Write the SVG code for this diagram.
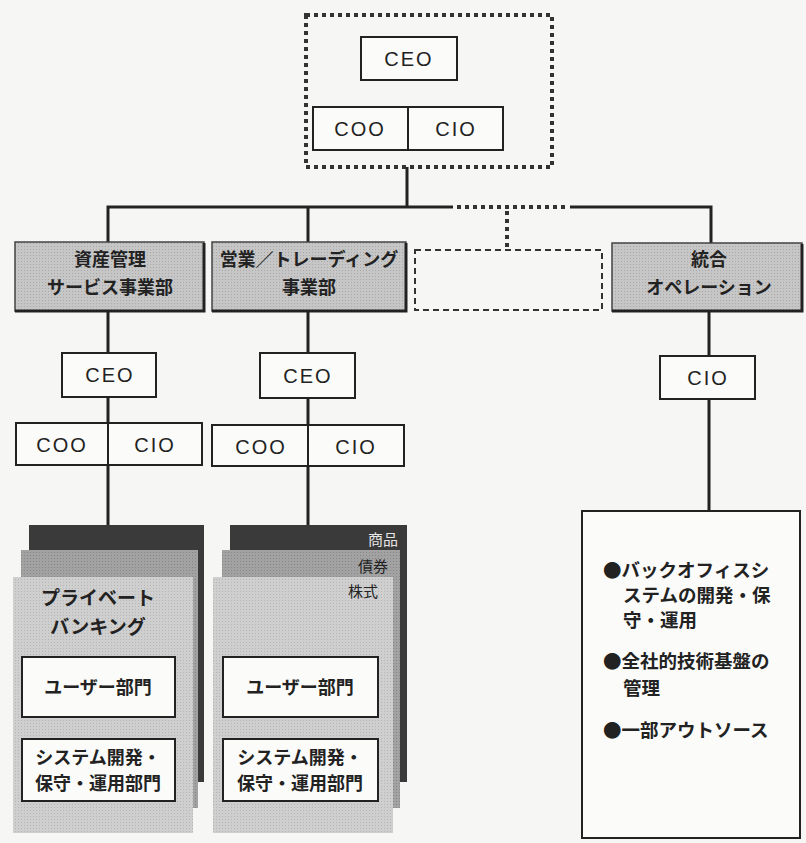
<svg xmlns="http://www.w3.org/2000/svg" width="806" height="843" viewBox="0 0 806 843">
<defs>
<pattern id="ht" width="3" height="3" patternUnits="userSpaceOnUse"><rect width="3" height="3" fill="#c6c6c6"/><rect width="1" height="1" fill="#a8a8a8"/></pattern>
<pattern id="htm" width="3" height="3" patternUnits="userSpaceOnUse"><rect width="3" height="3" fill="#a2a2a2"/><rect width="1" height="1" fill="#868686"/></pattern>
<pattern id="htl" width="3" height="3" patternUnits="userSpaceOnUse"><rect width="3" height="3" fill="#cfcfcf"/><rect width="1" height="1" fill="#b4b4b4"/></pattern>
</defs>
<style>
.bg{fill:#f6f6f4}
.box{fill:#fbfbf9;stroke:#222;stroke-width:2}
.hdr{fill:url(#ht);stroke:#444;stroke-width:1.5}
.hsh{fill:none;stroke:#222;stroke-width:3}
.ln{fill:none;stroke:#222;stroke-width:3}
.dot{fill:none;stroke:#333;stroke-width:4;stroke-dasharray:4 4}
.dash{fill:none;stroke:#333;stroke-width:2;stroke-dasharray:6 4}
.en{font-family:"Liberation Sans",Arial,sans-serif;font-size:20px;fill:#222;text-anchor:middle;letter-spacing:2px}
.jp{font-family:"Noto Sans CJK JP","Noto Sans CJK SC",sans-serif;font-size:18px;fill:#222;text-anchor:middle;font-weight:bold}
.jpl{font-family:"Noto Sans CJK JP","Noto Sans CJK SC",sans-serif;font-size:18.5px;fill:#222;font-weight:bold}
.dark{fill:#3a3a3a}
.mid{fill:url(#htm)}
.front{fill:url(#htl)}
</style>
<rect class="bg" width="806" height="843"/>

<g id="connectors">
<line class="ln" x1="407" y1="167" x2="407" y2="207"/>
<polyline class="ln" points="108,242 108,207 453,207"/>
<line class="dot" x1="457" y1="207" x2="568" y2="207"/>
<line class="dot" x1="507" y1="211" x2="507" y2="248"/>
<polyline class="ln" points="570,207 711,207 711,243"/>
<line class="ln" x1="308" y1="207" x2="308" y2="242"/>
<line class="ln" x1="108" y1="311" x2="108" y2="353"/>
<line class="ln" x1="108" y1="397" x2="108" y2="423"/>
<line class="ln" x1="108" y1="465" x2="108" y2="525"/>
<line class="ln" x1="308" y1="311" x2="308" y2="353"/>
<line class="ln" x1="308" y1="398" x2="308" y2="425"/>
<line class="ln" x1="308" y1="466" x2="308" y2="525"/>
<line class="ln" x1="709" y1="311" x2="709" y2="356"/>
<line class="ln" x1="709" y1="399" x2="709" y2="511"/>
</g>

<g id="top-management">
<rect class="dot" x="306" y="15" width="246" height="152"/>
<g id="top-ceo"><rect class="box" x="361" y="37" width="96" height="43"/><text class="en" x="409" y="66">CEO</text></g>
<g id="top-coo-cio"><rect class="box" x="313" y="107" width="190" height="43"/><line x1="408" y1="107" x2="408" y2="150" stroke="#222" stroke-width="2"/><text class="en" x="360" y="136">COO</text><text class="en" x="456" y="136">CIO</text></g>
</g>

<g id="asset-mgmt">
<rect class="hdr" x="15" y="242" width="189" height="69"/>
<polyline class="hsh" points="204,243 204,311 15,311"/>
<text class="jp" x="110" y="266">資産管理</text>
<text class="jp" x="110" y="294">サービス事業部</text>
</g>
<g id="sales-trading">
<rect class="hdr" x="212" y="242" width="194" height="69"/>
<polyline class="hsh" points="406,243 406,311 212,311"/>
<text class="jp" x="309" y="266">営業／トレーディング</text>
<text class="jp" x="309" y="294">事業部</text>
</g>
<g id="future-unit">
<rect class="dash" x="415" y="250" width="187" height="60"/>
</g>
<g id="integrated-ops">
<rect class="hdr" x="612" y="243" width="190" height="68"/>
<polyline class="hsh" points="802,244 802,311 612,311"/>
<text class="jp" x="709" y="266">統合</text>
<text class="jp" x="709" y="294">オペレーション</text>
</g>

<g id="am-ceo"><rect class="box" x="62" y="353" width="94" height="44"/><text class="en" x="110" y="382">CEO</text></g>
<g id="am-coo-cio"><rect class="box" x="16" y="423" width="186" height="42"/><line x1="108" y1="423" x2="108" y2="465" stroke="#222" stroke-width="2"/><text class="en" x="62" y="452">COO</text><text class="en" x="155" y="452">CIO</text></g>
<g id="st-ceo"><rect class="box" x="260" y="353" width="95" height="45"/><text class="en" x="308" y="383">CEO</text></g>
<g id="st-coo-cio"><rect class="box" x="212" y="425" width="192" height="41"/><line x1="308" y1="425" x2="308" y2="466" stroke="#222" stroke-width="2"/><text class="en" x="261" y="454">COO</text><text class="en" x="356" y="454">CIO</text></g>
<g id="io-cio"><rect class="box" x="660" y="356" width="95" height="43"/><text class="en" x="708" y="385">CIO</text></g>

<g id="am-stack">
<rect class="dark" x="29" y="525" width="175" height="257"/>
<rect class="mid" x="21" y="550" width="177" height="258"/>
<rect class="front" x="13" y="577" width="180" height="256"/>
<text class="jp" x="98" y="605" style="font-size:19px">プライベート</text>
<text class="jp" x="98" y="634" style="font-size:19px">バンキング</text>
<g id="am-user"><rect class="box" x="22" y="657" width="153" height="60"/><text class="jp" x="98" y="694">ユーザー部門</text></g>
<g id="am-sys"><rect class="box" x="22" y="739" width="153" height="62"/><text class="jp" x="98" y="764">システム開発・</text><text class="jp" x="98" y="790">保守・運用部門</text></g>
</g>

<g id="st-stack">
<rect class="dark" x="230" y="525" width="177" height="257"/>
<rect class="mid" x="222" y="550" width="178" height="258"/>
<rect class="front" x="213" y="577" width="180" height="256"/>
<text class="jp" x="398" y="545" style="text-anchor:end;fill:#e6e6e6;font-size:15px;font-weight:normal">商品</text>
<text class="jp" x="388" y="572" style="text-anchor:end;font-size:15px;font-weight:normal">債券</text>
<text class="jp" x="378" y="597" style="text-anchor:end;font-size:15px;font-weight:normal">株式</text>
<g id="st-user"><rect class="box" x="223" y="657" width="155" height="60"/><text class="jp" x="300" y="694">ユーザー部門</text></g>
<g id="st-sys"><rect class="box" x="223" y="739" width="155" height="62"/><text class="jp" x="300" y="764">システム開発・</text><text class="jp" x="300" y="790">保守・運用部門</text></g>
</g>

<g id="io-duties">
<rect class="box" x="582" y="511" width="218" height="327"/>
<text class="jpl" x="603" y="577">●バックオフィスシ</text>
<text class="jpl" x="623" y="602">ステムの開発・保</text>
<text class="jpl" x="623" y="627">守・運用</text>
<text class="jpl" x="603" y="668">●全社的技術基盤の</text>
<text class="jpl" x="623" y="695">管理</text>
<text class="jpl" x="603" y="737">●一部アウトソース</text>
</g>
</svg>
